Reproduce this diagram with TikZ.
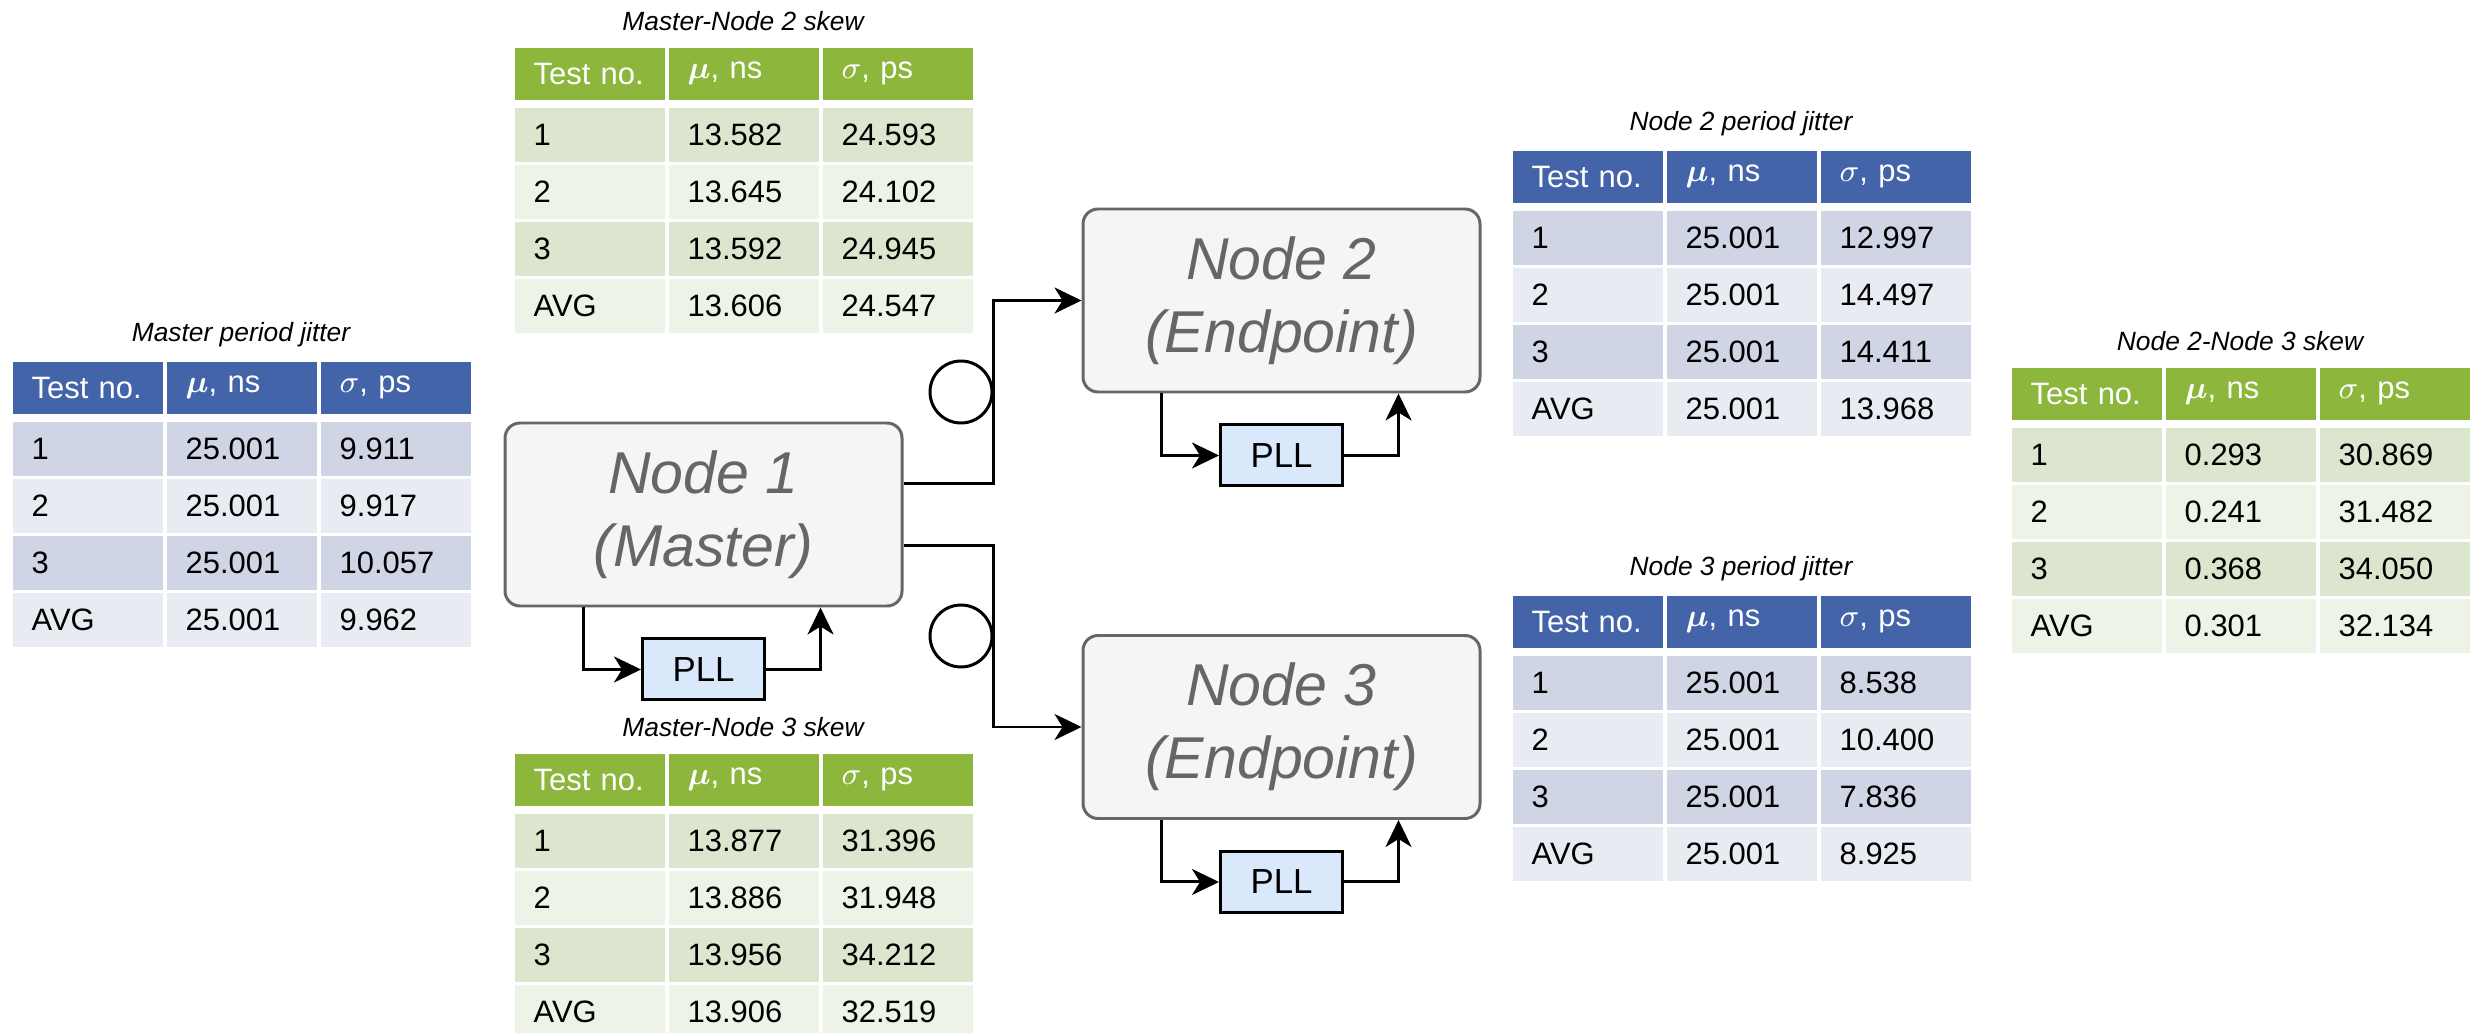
\documentclass[tikz,border=0pt]{standalone}
\usepackage{amsmath,bm}
\usepackage{fontspec}
\setmainfont{Liberation Sans}
\usetikzlibrary{arrows.meta, positioning}

\definecolor{bluehead}{RGB}{68,100,170}
\definecolor{bluedark}{RGB}{207,213,229}
\definecolor{bluelight}{RGB}{233,235,243}
\definecolor{greenhead}{RGB}{140,182,60}
\definecolor{greendark}{RGB}{220,230,206}
\definecolor{greenlight}{RGB}{237,243,231}
\definecolor{nodegray}{RGB}{102,102,102}
\definecolor{nodefill}{RGB}{245,245,245}
\definecolor{pllblue}{RGB}{218,232,252}

\newcommand{\blockfont}{\fontsize{16.8}{20.8}\selectfont\itshape}
\newcommand{\cellfont}{\fontsize{8.8}{10}\selectfont}
\newcommand{\tabtitlefont}{\fontsize{7.5}{9}\selectfont\itshape}
\newcommand{\pllfont}{\fontsize{9.9}{11}\selectfont}

% results table: name, left, top, colour family, title, rows
\newcommand{\restable}[6]{%
  \node[tabtitle] (#1-title) at ({#2+229},{#3-26}) {#5};
  \foreach \hd [count=\k] in {Test no., {$\bm{\mu}$, ns}, {$\sigma$, ps}}
    \node[cell, hdr, fill=#4head] (#1-h\k) at ({#2+154*(\k-1)},#3) {\hd};
  \foreach \ca/\cb/\cc [count=\r] in {#6} {
    \pgfmathsetmacro\rowtop{#3+60+57*(\r-1)}
    \ifodd\r \def\rowfill{#4dark}\else \def\rowfill{#4light}\fi
    \node[cell, fill=\rowfill] (#1-r\r-1) at (#2,\rowtop) {\ca};
    \node[cell, fill=\rowfill] (#1-r\r-2) at ({#2+154},\rowtop) {\cb};
    \node[cell, fill=\rowfill] (#1-r\r-3) at ({#2+308},\rowtop) {\cc};
  }
}

\begin{document}
\begin{tikzpicture}[
    x=0.1mm, y=-0.1mm,
    block/.style={draw=nodegray, fill=nodefill, line width=0.85pt,
                  rounded corners=1.5mm, minimum width=39.7mm,
                  minimum height=18.3mm, align=center, text=nodegray,
                  font=\blockfont},
    pll/.style={draw, fill=pllblue, line width=0.85pt, minimum width=12.2mm,
                minimum height=6.1mm, font=\pllfont},
    cell/.style={anchor=north west, minimum height=5.4mm, text width=11.2mm,
                 inner xsep=1.9mm, inner ysep=0pt, align=left, font=\cellfont},
    hdr/.style={minimum height=5.2mm, text=white},
    tabtitle/.style={font=\tabtitlefont},
    tap/.style={circle, draw, line width=0.85pt, minimum size=6.2mm, inner sep=0pt},
    arr/.style={-{Stealth[length=2.7mm, width=2.6mm, inset=0.8mm]}, line width=0.85pt},
    line/.style={line width=0.85pt},
]
  \useasboundingbox[fill=white] (0,0) rectangle (2475,1033);

  \node[block] (n1) at (703.5,514.5) {Node 1\\(Master)};
  \node[block] (n2) at (1281.5,300.5) {Node 2\\(Endpoint)};
  \node[block] (n3) at (1281.5,727) {Node 3\\(Endpoint)};

  \node[pll, below=3mm of n1] (p1) {PLL};
  \node[pll, below=3mm of n2] (p2) {PLL};
  \node[pll, below=3mm of n3] (p3) {PLL};

  \foreach \n in {1,2,3} {
    \draw[arr] ([xshift=8mm]n\n.south west) |- (p\n.west);
    \draw[arr] (p\n.east) -| ([xshift=31.7mm]n\n.south west);
  }

  \draw[arr] ([yshift=3.1mm]n1.east) -- ++(90,0) |- (n2.west);
  \draw[arr] ([yshift=-3.1mm]n1.east) -- ++(90,0) |- (n3.west);

  \node[tap] (c2) at (961,392) {};
  \node[tap] (c3) at (961,636) {};

  \restable{mjit}{12}{361}{blue}{Master period jitter}
    {1/25.001/9.911, 2/25.001/9.917, 3/25.001/10.057, AVG/25.001/9.962}
  \restable{mn2}{514}{47}{green}{Master-Node 2 skew}
    {1/13.582/24.593, 2/13.645/24.102, 3/13.592/24.945, AVG/13.606/24.547}
  \restable{mn3}{514}{753}{green}{Master-Node 3 skew}
    {1/13.877/31.396, 2/13.886/31.948, 3/13.956/34.212, AVG/13.906/32.519}
  \restable{n2jit}{1512}{150}{blue}{Node 2 period jitter}
    {1/25.001/12.997, 2/25.001/14.497, 3/25.001/14.411, AVG/25.001/13.968}
  \restable{n3jit}{1512}{595}{blue}{Node 3 period jitter}
    {1/25.001/8.538, 2/25.001/10.400, 3/25.001/7.836, AVG/25.001/8.925}
  \restable{n23}{2011}{367}{green}{Node 2-Node 3 skew}
    {1/0.293/30.869, 2/0.241/31.482, 3/0.368/34.050, AVG/0.301/32.134}
\end{tikzpicture}
\end{document}
